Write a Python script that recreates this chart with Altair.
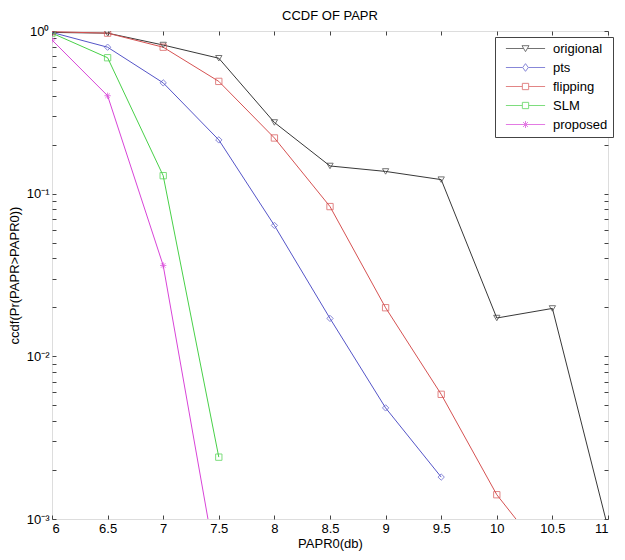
import altair as alt
import pandas as pd

# ---- data ----
x_all = [6, 6.5, 7, 7.5, 8, 8.5, 9, 9.5, 10, 10.5, 11]
series_names = ["origional", "pts", "flipping", "SLM", "proposed"]
original = [0.98, 0.97, 0.82, 0.68, 0.274, 0.148, 0.137, 0.122, 0.0172, 0.0197, 0.00088]
pts = [0.98, 0.795, 0.48, 0.214, 0.0638, 0.0171, 0.00482, 0.00181]
flipping = [0.99, 0.97, 0.795, 0.49, 0.22, 0.0833, 0.0199, 0.00584, 0.00141, 0.00052]
slm = [0.97, 0.685, 0.129, 0.0024]
proposed = [0.88, 0.40, 0.0362, 0.00042]

x_ticks = [6, 6.5, 7, 7.5, 8, 8.5, 9, 9.5, 10, 10.5, 11]
y_major = [0.001, 0.01, 0.1, 1]
y_minor = [k * m for m in [0.001, 0.01, 0.1] for k in range(2, 10)]
y_ticks = sorted(y_major + y_minor)

colors = ["#383838", "#5555c8", "#d65252", "#48d048", "#d844d8"]
star = "M-1,0L1,0M0,-1L0,1M-0.7,-0.7L0.7,0.7M-0.7,0.7L0.7,-0.7"
plot_shapes = ["triangle-down", "diamond", "square", "square", star]
legend_shapes = [
    "M-5.6,0L-0.5,0M0.5,0L5.6,0M-1,-0.8L1,-0.8L0,0.9Z",
    "M-5.6,0L-0.8,0M0.8,0L5.6,0M0,-1.1L0.8,0L0,1.1L-0.8,0Z",
    "M-5.6,0L-0.9,0M0.9,0L5.6,0M-0.9,-0.9L0.9,-0.9L0.9,0.9L-0.9,0.9Z",
    "M-5.6,0L-0.9,0M0.9,0L5.6,0M-0.9,-0.9L0.9,-0.9L0.9,0.9L-0.9,0.9Z",
    "M-5.6,0L5.6,0M0,-1L0,1M-0.7,-0.7L0.7,0.7M-0.7,0.7L0.7,-0.7",
]

rows = []
for name, vals in zip(series_names, [original, pts, flipping, slm, proposed]):
    for xv, yv in zip(x_all, vals):
        rows.append({"series": name, "x": xv, "y": yv})
df = pd.DataFrame(rows)

FONT = "Liberation Sans"
x_scale = alt.Scale(domain=[6, 11], nice=False, zero=False)
y_scale = alt.Scale(type="log", domain=[0.001, 1], nice=False)
color_scale = alt.Scale(domain=series_names, range=colors)

label_expr = ("datum.value == 1 ? '10⁰' : datum.value == 0.1 ? '10⁻¹' : "
              "datum.value == 0.01 ? '10⁻²' : datum.value == 0.001 ? '10⁻³' : ''")

common_axis = dict(domain=False, grid=False, tickSize=4, offset=-4, tickColor="#444444",
                   labelFont=FONT, labelFontSize=13, labelColor="black",
                   titleFont=FONT, titleFontSize=13, titleFontWeight="normal", titleColor="black")

lines = alt.Chart(df).mark_line(strokeWidth=1, clip=True).encode(
    x=alt.X("x:Q", scale=x_scale,
            axis=alt.Axis(title="PAPR0(db)", values=x_ticks, format="~g",
                          labelPadding=3, titlePadding=2, **common_axis)),
    y=alt.Y("y:Q", scale=y_scale,
            axis=alt.Axis(title="ccdf(Pr(PAPR>PAPR0))", values=y_ticks, labelExpr=label_expr,
                          labelPadding=3, titlePadding=5, **common_axis)),
    color=alt.Color("series:N", scale=color_scale, legend=None),
    detail="series:N",
)

points = alt.Chart(df).mark_point(filled=False, strokeWidth=1, size=40, clip=True).encode(
    x=alt.X("x:Q", scale=x_scale,
            axis=alt.Axis(orient="top", title=None, values=x_ticks, labels=False, **common_axis)),
    y=alt.Y("y:Q", scale=y_scale,
            axis=alt.Axis(orient="right", title=None, values=y_ticks, labels=False, **common_axis)),
    color=alt.Color("series:N", scale=color_scale, legend=None),
    shape=alt.Shape("series:N", scale=alt.Scale(domain=series_names, range=plot_shapes), legend=None),
)

leg = alt.Legend(title=None, orient="none", legendX=443, legendY=6, direction="vertical",
                 symbolSize=49, symbolStrokeWidth=1, symbolOffset=19, labelOffset=21,
                 labelFont=FONT, labelFontSize=13, labelColor="black",
                 padding=5, strokeColor="#444444", fillColor="white", rowPadding=5)

legend_layer = alt.Chart(df).transform_filter("false").mark_point(filled=False, strokeWidth=1).encode(
    color=alt.Color("series:N", scale=color_scale, legend=leg),
    shape=alt.Shape("series:N", scale=alt.Scale(domain=series_names, range=legend_shapes), legend=leg),
)

chart = alt.layer(lines, points, legend_layer).resolve_scale(
    color="independent", shape="independent"
).resolve_axis(
    x="independent", y="independent"
).properties(
    width=556, height=488,
    autosize=alt.AutoSizeParams(type="none"),
    padding={"left": 44, "top": 23, "right": 7, "bottom": 33},
    title=alt.Title("CCDF OF PAPR", font=FONT, fontSize=13, fontWeight="normal", color="black",
                    offset=10, dy=8),
).configure_view(stroke="#444444", strokeWidth=1).configure(background="white")

chart.save("out.html", embed_options={"renderer": "svg", "actions": False})
